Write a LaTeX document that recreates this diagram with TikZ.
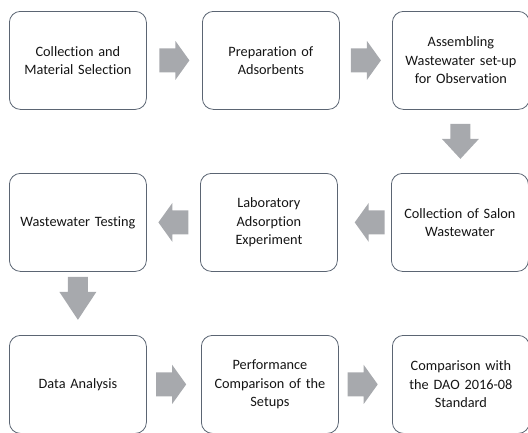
\documentclass[tikz,border=0pt]{standalone}
\usepackage{fontspec}
\setmainfont[Ligatures={NoCommon}]{Carlito}
\usetikzlibrary{calc}
\definecolor{boxline}{HTML}{5B6573}
\definecolor{arrowgray}{HTML}{A7A9AD}
\definecolor{txt}{HTML}{151515}
\begin{document}
\begin{tikzpicture}[x=1pt,y=-1pt,
  stepbox/.style={draw=boxline, line width=0.8pt, rounded corners=11pt, fill=white,
    minimum width=137pt, minimum height=98pt, align=center, text width=134pt,
    font=\fontsize{14.3}{18.5}\selectfont, text=txt, inner sep=0pt, anchor=north west},
  flowarrow/.pic={\fill[arrowgray] (-15,-12) -- (1,-12) -- (1,-19.5) -- (15,0)
     -- (1,19.5) -- (1,12) -- (-15,12) -- cycle;},
  downarrow/.pic={\fill[arrowgray] (-10,-#1) -- (10,-#1) -- (10,-#1+15) -- (18.5,-#1+15)
     -- (0,#1) -- (-18.5,-#1+15) -- (-10,-#1+15) -- cycle;}]
\useasboundingbox (0,0) rectangle (528,432);
\clip (0,0) rectangle (528,432);
\node[stepbox] (b1) at (9,11) {Collection and\\Material Selection};
\node[stepbox] (b2) at (202,11) {Preparation of\\Adsorbents};
\node[stepbox] (b3) at (392,11) {Assembling\\Wastewater set-up\\for Observation};
\node[stepbox] (b4) at (391,173) {Collection of Salon\\Wastewater};
\node[stepbox] (b5) at (200,173) {Laboratory\\Adsorption\\Experiment};
\node[stepbox] (b6) at (9,173) {Wastewater Testing};
\node[stepbox] (b7) at (9,335) {Data Analysis};
\node[stepbox] (b8) at (201,335) {Performance\\Comparison of the\\Setups};
\node[stepbox] (b9) at (392,335) {Comparison with\\the DAO 2016-08\\Standard};
\pic at ($(b1.east)!0.5!(b2.west)$) {flowarrow};
\pic at ($(b2.east)!0.5!(b3.west)$) {flowarrow};
\pic at ($(b3.south)!0.5!(b4.north)$) {downarrow=17.5};
\pic[rotate=180] at ($(b4.west)!0.4!(b5.east)$) {flowarrow};
\pic[rotate=180] at ($(b5.west)!0.5!(b6.east)$) {flowarrow};
\pic at ($(b6.south)!0.42!(b7.north)$) {downarrow=21.5};
\pic at ($(b7.east)!0.45!(b8.west)$) {flowarrow};
\pic at ($(b8.east)!0.45!(b9.west)$) {flowarrow};
\end{tikzpicture}
\end{document}
